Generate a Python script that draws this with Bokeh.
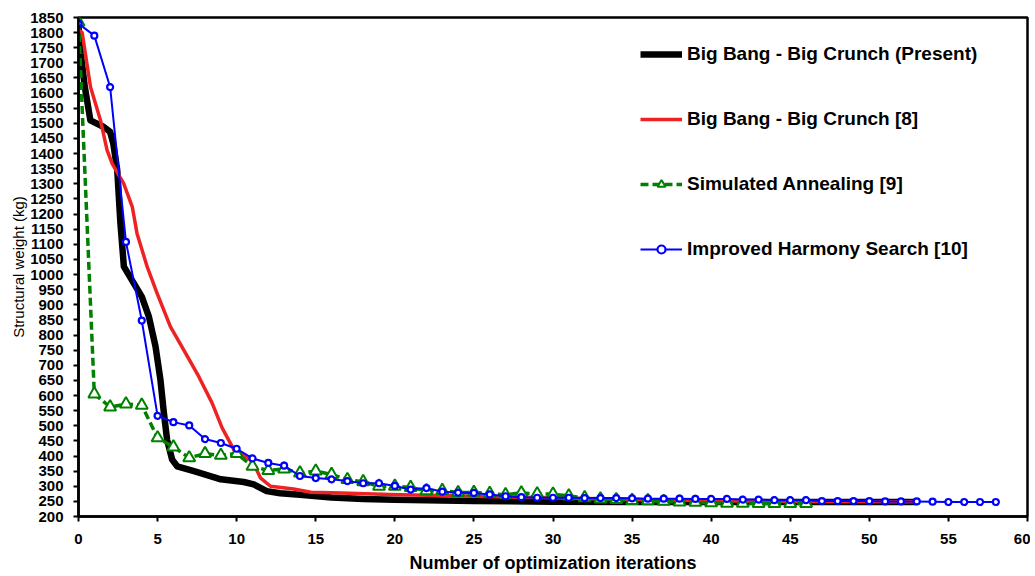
from bokeh.plotting import figure
from bokeh.models import Legend, LegendItem, Range1d, FixedTicker
from bokeh.embed import file_html
from bokeh.resources import INLINE

# Big Bang - Big Crunch (Present)
bb_x = [0, 0.15, 0.4, 0.75, 1.6, 2, 2.2, 2.45, 2.65, 2.87, 3.5, 4, 4.45, 4.87, 5.18,
        5.4, 5.6, 5.92, 6.24, 7.3, 9, 10.45, 11.08, 11.9, 12.75, 14, 16, 18, 20,
        25, 30, 35, 40, 45, 50, 53]
bb_y = [1820, 1730, 1620, 1510, 1488, 1472, 1433, 1345, 1170, 1026, 971, 927, 861, 762, 652,
        542, 454, 388, 366, 350, 323, 314, 306, 284, 277, 272, 263, 258, 255,
        251, 249, 248, 248, 248, 248, 248]

# Big Bang - Big Crunch [8]
bb8_x = [0, 0.23, 0.76, 1.39, 1.81, 2.13, 2.86, 3.4, 3.7, 4.34, 4.97, 5.81, 6.65, 7.6,
         8.45, 9.08, 9.82, 10.87, 11.2, 11.5, 12.14, 13.6, 14.7, 16.6, 19.7, 25, 30,
         35, 40, 45, 53]
bb8_y = [1810, 1800, 1620, 1510, 1411, 1367, 1301, 1224, 1136, 1026, 938, 828, 751, 663,
         575, 493, 421, 388, 361, 328, 300, 291, 280, 278, 273, 267, 262,
         256, 252, 250, 249]

# Simulated Annealing [9]
sa_x = list(range(0, 47))
sa_y = [1835, 605, 562, 572, 568, 460, 430, 394, 408, 402, 408, 366, 352, 357, 344, 350,
        339, 322, 315, 300, 300, 296, 285, 286, 279, 280, 276, 272, 278, 275, 274, 268,
        262, 258, 256, 253, 252, 250, 248, 247, 245, 244, 244, 243, 243, 243, 243]

# Improved Harmony Search [10]
hs_x = list(range(0, 59))
hs_y = [1830, 1790, 1620, 1108, 848, 533, 512, 501, 456, 443, 424, 392, 377, 368, 334,
        327, 323, 317, 310, 310, 301, 289, 294, 282, 279, 278, 273, 267, 264, 262, 262,
        262, 261, 261, 261, 260, 259, 259, 259, 258, 258, 258, 256, 256, 254, 254, 254,
        251, 251, 251, 251, 250, 250, 250, 249, 248, 248, 248, 248]

x_ticks = list(range(0, 61, 5))
y_ticks = list(range(200, 1851, 50))
labels = ["Big Bang - Big Crunch (Present)", "Big Bang - Big Crunch [8]",
          "Simulated Annealing [9]", "Improved Harmony Search [10]"]

FONT = "Liberation Sans"

p = figure(width=1030, height=575, x_range=Range1d(0, 60), y_range=Range1d(200, 1850),
           output_backend="svg", toolbar_location=None,
           min_border_left=78, min_border_top=17, min_border_right=3, min_border_bottom=58)
p.xgrid.visible = False
p.ygrid.visible = False
p.outline_line_color = "black"
p.outline_line_width = 2.5
p.background_fill_color = "white"

p.xaxis.ticker = FixedTicker(ticks=x_ticks)
p.yaxis.ticker = FixedTicker(ticks=y_ticks)
for ax in (p.xaxis[0], p.yaxis[0]):
    ax.axis_line_width = 2.5
    ax.axis_line_color = "black"
    ax.major_tick_line_width = 2
    ax.major_tick_out = 5
    ax.major_tick_in = 0
    ax.minor_tick_out = 0
    ax.minor_tick_in = 0
    ax.major_label_text_font = FONT
    ax.major_label_text_font_style = "bold"
    ax.major_label_text_font_size = "15px"
    ax.major_label_text_color = "black"
    ax.axis_label_text_font = FONT
    ax.axis_label_text_color = "black"

p.xaxis.major_label_standoff = 12
p.yaxis.major_label_standoff = 10
p.xaxis.axis_label = "Number of optimization iterations"
p.xaxis.axis_label_text_font_style = "bold"
p.xaxis.axis_label_text_font_size = "18px"
p.xaxis.axis_label_standoff = 6
p.yaxis.axis_label = "Structural weight (kg)"
p.yaxis.axis_label_text_font_style = "normal"
p.yaxis.axis_label_text_font_size = "15px"
p.yaxis.axis_label_standoff = 0

r_bb = p.line(bb_x, bb_y, line_color="black", line_width=6.5, line_join="round")
r_bb8 = p.line(bb8_x, bb8_y, line_color="#ee2222", line_width=3.5, line_join="round")
r_sa_l = p.line(sa_x, sa_y, line_color="#008000", line_width=3.5, line_dash="8 4")
r_sa_m = p.scatter(sa_x, sa_y, marker="triangle", size=12, line_color="#008000",
                   line_width=2, fill_color="white")
r_hs_l = p.line(hs_x, hs_y, line_color="#0000ff", line_width=2)
r_hs_m = p.scatter(hs_x, hs_y, marker="circle", size=6, line_color="#0000ff",
                   line_width=2.2, fill_color="white")

legend = Legend(items=[
    LegendItem(label=labels[0], renderers=[r_bb]),
    LegendItem(label=labels[1], renderers=[r_bb8]),
    LegendItem(label=labels[2], renderers=[r_sa_l, r_sa_m]),
    LegendItem(label=labels[3], renderers=[r_hs_l, r_hs_m]),
], location=(562, 256))
legend.glyph_width = 42
legend.glyph_height = 20
legend.spacing = 43
legend.padding = 0
legend.margin = 0
legend.label_standoff = 5
legend.border_line_alpha = 0
legend.background_fill_alpha = 0
legend.label_text_font = FONT
legend.label_text_font_style = "bold"
legend.label_text_font_size = "19px"
legend.label_text_color = "black"
p.add_layout(legend)

open("out.html", "w").write(file_html(p, INLINE))
